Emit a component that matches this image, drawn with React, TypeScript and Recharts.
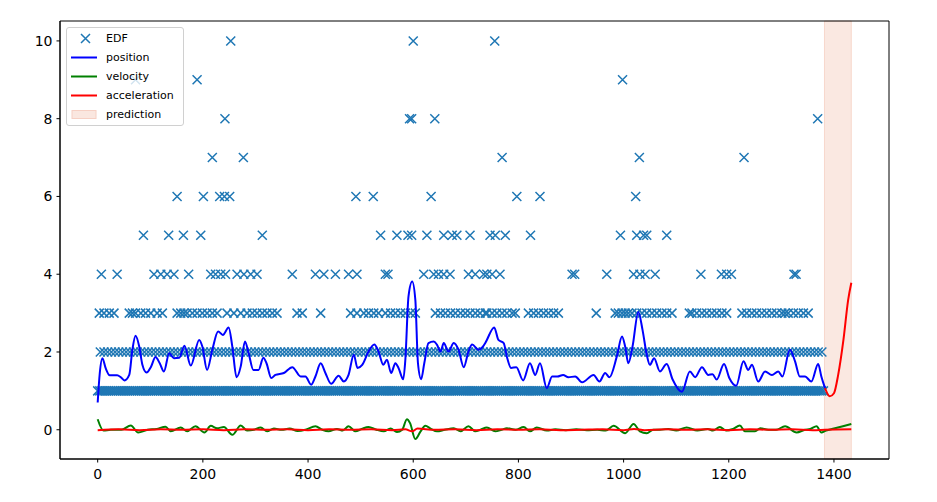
import React from "react"
import { ComposedChart, Scatter, Line, XAxis, YAxis, ReferenceArea } from "recharts"

// EDF observations, x positions grouped by value
const level1 = [
  0, 4, 8, 12, 16, 20, 24, 28, 32, 36, 40, 44, 48, 52, 56, 60, 64, 68, 72, 76, 80, 84, 88, 92, 96,
  100, 104, 108, 112, 116, 120, 124, 128, 132, 136, 140, 144, 148, 152, 156, 160, 164, 168, 172, 176, 180, 184, 188, 192, 196,
  200, 204, 208, 212, 216, 220, 224, 228, 232, 236, 240, 244, 248, 252, 256, 260, 264, 268, 272, 276, 280, 284, 288, 292, 296,
  300, 304, 308, 312, 316, 320, 324, 328, 332, 336, 340, 344, 348, 352, 356, 360, 364, 368, 372, 376, 380, 384, 388, 392, 396,
  400, 404, 408, 412, 416, 420, 424, 428, 432, 436, 440, 444, 448, 452, 456, 460, 464, 468, 472, 476, 480, 484, 488, 492, 496,
  500, 504, 508, 512, 516, 520, 524, 528, 532, 536, 540, 544, 548, 552, 556, 560, 564, 568, 572, 576, 580, 584, 588, 592, 596,
  600, 604, 608, 612, 616, 620, 624, 628, 632, 636, 640, 644, 648, 652, 656, 660, 664, 668, 672, 676, 680, 684, 688, 692, 696,
  700, 704, 708, 712, 716, 720, 724, 728, 732, 736, 740, 744, 748, 752, 756, 760, 764, 768, 772, 776, 780, 784, 788, 792, 796,
  800, 804, 808, 812, 816, 820, 824, 828, 832, 836, 840, 844, 848, 852, 856, 860, 864, 868, 872, 876, 880, 884, 888, 892, 896,
  900, 904, 908, 912, 916, 920, 924, 928, 932, 936, 940, 944, 948, 952, 956, 960, 964, 968, 972, 976, 980, 984, 988, 992, 996,
  1000, 1004, 1008, 1012, 1016, 1020, 1024, 1028, 1032, 1036, 1040, 1044, 1048, 1052, 1056, 1060, 1064, 1068, 1072, 1076, 1080, 1084, 1088, 1092, 1096,
  1100, 1104, 1108, 1112, 1116, 1120, 1124, 1128, 1132, 1136, 1140, 1144, 1148, 1152, 1156, 1160, 1164, 1168, 1172, 1176, 1180, 1184, 1188, 1192, 1196,
  1200, 1204, 1208, 1212, 1216, 1220, 1224, 1228, 1232, 1236, 1240, 1244, 1248, 1252, 1256, 1260, 1264, 1268, 1272, 1276, 1280, 1284, 1288, 1292, 1296,
  1300, 1304, 1308, 1312, 1316, 1320, 1324, 1328, 1332, 1336, 1340, 1344, 1348, 1352, 1356, 1360, 1364, 1368, 1372, 1376, 1380,
]
const level2 = [
  5, 12, 19, 26, 33, 40, 47, 54, 61, 68, 75, 82, 89, 96, 103, 110, 117, 124, 131, 138, 145, 152, 159, 166, 173, 180, 187, 194,
  201, 208, 215, 222, 229, 236, 243, 250, 257, 264, 271, 278, 285, 292, 299, 306, 313, 320, 327, 334, 341, 348, 355, 362, 369, 376, 383, 390, 397,
  404, 411, 418, 425, 432, 439, 446, 453, 460, 467, 474, 481, 488, 495, 502, 509, 516, 523, 530, 537, 544, 551, 558, 565, 572, 579, 586, 593,
  600, 607, 614, 621, 628, 635, 642, 649, 656, 663, 670, 677, 684, 691, 698, 705, 712, 719, 726, 733, 740, 747, 754, 761, 768, 775, 782, 789, 796,
  803, 810, 817, 824, 831, 838, 845, 852, 859, 866, 873, 880, 887, 894, 901, 908, 915, 922, 929, 936, 943, 950, 957, 964, 971, 978, 985, 992, 999,
  1006, 1013, 1020, 1027, 1034, 1041, 1048, 1055, 1062, 1069, 1076, 1083, 1090, 1097, 1104, 1111, 1118, 1125, 1132, 1139, 1146, 1153, 1160, 1167,
  1174, 1181, 1188, 1195, 1202, 1209, 1216, 1223, 1230, 1237, 1244, 1251, 1258, 1265, 1272, 1279, 1286, 1293, 1300, 1307, 1314, 1321, 1328, 1335,
  1342, 1349, 1356, 1363, 1370, 1377,
]
const level3 = [
  3, 12, 22, 31, 60, 66, 72, 82, 91, 101, 113, 123, 151, 158, 164, 170, 180, 189, 199, 208, 218, 227, 246, 259, 272, 284, 294, 303, 313, 322, 332,
  341, 379, 389, 424, 481, 493, 506, 515, 525, 534, 547, 557, 566, 576, 585, 595, 604,
  642, 652, 661, 671, 680, 690, 699, 708, 718, 727, 737, 740, 750, 759, 769, 778, 788, 794,
  819, 829, 838, 848, 857, 867, 876, 948, 984, 990, 997, 1003, 1009, 1016, 1025, 1035, 1044, 1054, 1063, 1073, 1082, 1092, 1125,
  1130, 1139, 1149, 1158, 1168, 1177, 1187, 1196, 1225, 1234, 1244, 1253, 1263, 1272, 1282, 1291, 1301, 1307, 1313, 1323, 1332, 1342, 1351,
]
const level4 = [
  7, 37, 107, 120, 132, 145, 173, 215, 224, 234, 243, 265, 278, 291, 303, 370, 414, 430, 452, 477, 493, 547, 552,
  620, 639, 648, 658, 670, 705, 718, 734, 740, 750, 765, 902, 907, 968, 1019, 1031, 1041, 1060, 1147, 1186, 1196, 1205, 1324, 1328,
]
const level5 = [87, 135, 163, 196, 313, 538, 569, 590, 597, 626, 658, 674, 683, 708, 746, 756, 775, 823, 994, 1025, 1038, 1044, 1082]
const level6 = [151, 201, 232, 241, 251, 491, 524, 634, 797, 841, 1023]
const level7 = [218, 277, 769, 1030, 1229]
const level8 = [242, 593, 597, 641, 1369]
const level9 = [72, 189, 998]
const level10 = [253, 600, 755]

const positionX = [
  0, 4, 9, 15, 23, 37, 44, 51, 60, 66, 72, 79, 85, 93, 101, 110, 118, 126, 136, 145, 155, 165, 177, 193, 199, 208, 218, 229, 238, 249,
  256, 264, 272, 280, 287, 296, 306, 315, 321, 330, 338, 354, 370, 386, 395, 406, 414, 424, 433, 444, 458, 468, 477, 487, 494, 503,
  515, 526, 534, 543, 550, 558, 566, 572, 581, 585, 591, 598, 604, 609, 615, 621, 629, 639, 645, 652, 658, 667, 677, 686, 696, 705,
  712, 724, 737, 740, 754, 762, 772, 778, 786, 796, 809, 822, 832, 841, 854, 864, 874, 885, 895, 908, 921, 943, 954, 965, 973, 987,
  997, 1003, 1009, 1017, 1028, 1036, 1044, 1050, 1058, 1069, 1082, 1093, 1111, 1126, 1136, 1149, 1161, 1169, 1177, 1191, 1201, 1214,
  1228, 1237, 1244, 1256, 1269, 1282, 1294, 1302, 1316, 1326, 1335, 1345, 1357, 1370, 1376, 1383,
]
const positionY = [
  0.7, 1.46, 1.84, 1.59, 1.4, 1.4, 1.35, 1.27, 1.41, 2.06, 2.42, 2.14, 1.67, 1.47, 1.61, 1.87, 1.71, 1.5, 1.97, 1.84, 1.85, 2.16, 1.65, 2.31, 2.14, 1.54, 2.06, 2.53, 2.44, 2.63,
  2.14, 1.35, 1.63, 2.27, 1.97, 1.54, 1.54, 1.85, 1.71, 1.33, 1.41, 1.46, 1.61, 1.37, 1.37, 1.16, 1.37, 1.71, 1.46, 1.18, 1.39, 1.24, 1.41, 1.93, 1.59, 1.67,
  2.01, 2.19, 2.01, 1.67, 1.8, 1.46, 1.71, 1.59, 1.3, 1.8, 3.43, 3.81, 3.34, 1.71, 1.3, 1.71, 2.23, 2.27, 2.19, 2.01, 2.23, 2.01, 2.23, 2.06, 1.61, 2.01,
  2.19, 2.06, 2.23, 2.31, 2.63, 2.31, 2.23, 1.88, 1.59, 1.61, 1.27, 1.71, 1.41, 1.71, 1.07, 1.37, 1.37, 1.41, 1.35, 1.37, 1.22, 1.41, 1.24, 1.46, 1.35, 1.88,
  2.4, 2.14, 1.71, 2.14, 3.03, 2.57, 1.93, 1.67, 1.84, 1.5, 1.69, 1.3, 0.98, 1.5, 1.35, 1.61, 1.41, 1.43, 1.29, 1.69, 1.33, 1.13,
  1.76, 1.54, 1.67, 1.24, 1.5, 1.41, 1.5, 1.37, 2.06, 1.76, 1.37, 1.37, 1.24, 1.69, 1.37, 1.07,
]

const predictionX = [1383, 1392, 1400, 1408, 1418, 1427, 1433]
const predictionY = [1.07, 0.86, 0.94, 1.41, 2.31, 3.34, 3.78]

const velocityX = [
  0, 11, 25, 45, 63, 77, 95, 112, 129, 139, 158, 170, 186, 203, 215, 227, 240, 256, 272, 284, 297, 310, 322, 335, 350, 365, 380, 395,
  414, 427, 439, 455, 466, 477, 490, 502, 515, 530, 544, 557, 569, 579, 588, 594, 604, 614, 623, 633, 645, 660, 677, 690, 705, 718, 728,
  740, 756, 768, 778, 795, 810, 822, 835, 854, 870, 890, 910, 930, 950, 966, 981, 1003, 1019, 1031, 1044, 1056, 1069, 1085, 1100, 1120,
  1140, 1160, 1170, 1183, 1195, 1208, 1221, 1231, 1250, 1260, 1275, 1290, 1307, 1329, 1345, 1355, 1367, 1376, 1385, 1400, 1417, 1433,
]
const velocityY = [
  0.27, -0.02, 0, 0, 0.11, -0.07, 0, 0.02, 0.08, -0.04, 0.06, -0.04, 0.09, -0.07, 0.1, 0.04, 0.07, -0.13, 0.11, -0.02, 0, 0.06, -0.04, 0.03, 0, 0.03, -0.03, 0,
  0.09, 0, -0.04, 0.02, -0.02, 0.09, -0.04, 0.02, 0.07, 0, -0.04, 0.03, -0.06, 0, 0.27, 0.17, -0.24, -0.04, 0.1, 0.03, -0.04, 0, 0.04, -0.04, 0.09, -0.04, 0,
  0.06, -0.04, 0, 0.04, 0, 0.07, -0.04, 0.06, -0.02, 0.01, -0.01, 0.01, -0.01, 0, -0.02, 0.1, -0.09, 0.15, -0.04, -0.09, 0, 0, 0.02, -0.02, 0.06,
  -0.02, 0.02, -0.02, 0.07, -0.02, 0.02, 0.11, -0.04, -0.04, 0.04, 0, 0, 0.09, -0.07, 0, 0.02, 0.09, -0.07, -0.02, 0.03, 0.09, 0.15,
]

const accelX = [
  0, 40, 80, 120, 160, 200, 240, 280, 320, 360, 400, 440, 480, 520, 560, 585, 598, 608, 640, 680, 720, 760, 800, 840, 880, 920, 960,
  1000, 1020, 1040, 1080, 1120, 1160, 1200, 1240, 1280, 1320, 1360, 1383, 1433,
]
const accelY = [
  -0.01, 0.01, -0.01, 0.01, 0, 0.01, -0.01, 0.01, 0, 0.01, -0.01, 0.01, 0, 0.01, -0.01, 0.01, -0.04, 0.03, 0, 0.01, -0.01, 0.01, 0, 0.01, -0.01, 0, 0.01,
  -0.01, 0.02, -0.01, 0.01, 0, 0.01, -0.01, 0.01, 0, 0.01, -0.01, 0, 0.01,
]

const xTicks = [0, 200, 400, 600, 800, 1000, 1200, 1400]
const yTicks = [0, 2, 4, 6, 8, 10]

const edfLevels: [number, number[]][] = [
  [1, level1], [2, level2], [3, level3], [4, level4], [5, level5],
  [6, level6], [7, level7], [8, level8], [9, level9], [10, level10],
]
const edfData = edfLevels.flatMap(([v, xs]) => xs.map((x) => ({ x, y: v })))
const zip = (xs: number[], ys: number[]) => xs.map((x, i) => ({ x, y: ys[i] }))
const positionData = zip(positionX, positionY)
const predictionData = zip(predictionX, predictionY)
const velocityData = zip(velocityX, velocityY)
const accelData = zip(accelX, accelY)

const font = "'DejaVu Sans', sans-serif"

const XMark = (props: any) => {
  const { cx, cy } = props
  if (cx == null || cy == null) return <g />
  const r = 4.5
  return (
    <path
      d={`M${cx - r},${cy - r}L${cx + r},${cy + r}M${cx - r},${cy + r}L${cx + r},${cy - r}`}
      stroke="#1f77b4"
      strokeWidth={1.5}
      fill="none"
    />
  )
}

const legendItems = [
  { label: "EDF", kind: "x", color: "#1f77b4" },
  { label: "position", kind: "line", color: "#0000ff" },
  { label: "velocity", kind: "line", color: "#008000" },
  { label: "acceleration", kind: "line", color: "#ff0000" },
  { label: "prediction", kind: "rect", color: "#fae7e0" },
]

function LegendBox() {
  return (
    <div
      style={{
        position: "absolute",
        left: 66,
        top: 27,
        width: 116,
        height: 97,
        border: "1px solid #d0d0d0",
        borderRadius: 3,
        background: "rgba(255,255,255,0.8)",
        fontFamily: font,
        fontSize: 11,
        color: "#000",
      }}
    >
      {legendItems.map((it, i) => (
        <div key={it.label} style={{ position: "absolute", left: 0, top: 1 + i * 19, height: 19, display: "flex", alignItems: "center" }}>
          <svg width={36} height={19} style={{ display: "block" }}>
            {it.kind === "x" && (
              <path d="M14,5L23,14M14,14L23,5" stroke={it.color} strokeWidth={1.5} fill="none" />
            )}
            {it.kind === "line" && <line x1={4} x2={30} y1={9.5} y2={9.5} stroke={it.color} strokeWidth={2} />}
            {it.kind === "rect" && <rect x={5} y={5.5} width={24} height={8} fill={it.color} stroke="#f6d0c4" strokeWidth={1} />}
          </svg>
          <span style={{ marginLeft: 3, lineHeight: "19px" }}>{it.label}</span>
        </div>
      ))}
    </div>
  )
}

export default function App() {
  return (
    <div style={{ position: "relative", width: 937, height: 502, background: "#fff" }}>
      <style>{`body{margin:0}`}</style>
      <ComposedChart width={937} height={502} margin={{ top: 21, right: 48, bottom: 0, left: 0 }}>
        <XAxis
          type="number"
          dataKey="x"
          domain={[-71.65, 1504.65]}
          allowDataOverflow
          ticks={xTicks}
          interval={0}
          height={43}
          tickSize={3.5}
          tickMargin={6.5}
          stroke="#000"
          tick={{ fill: "#000", fontSize: 14, fontFamily: font }}
        />
        <YAxis
          type="number"
          dataKey="y"
          domain={[-0.752, 10.512]}
          allowDataOverflow
          ticks={yTicks}
          interval={0}
          width={60}
          tickSize={3.5}
          tickMargin={4}
          stroke="#000"
          tick={{ fill: "#000", fontSize: 14, fontFamily: font }}
        />
        <ReferenceArea x1={1382} x2={1433} fill="#f5d5c9" fillOpacity={0.55} stroke="#f3c6b6" strokeOpacity={0.6} zIndex={50} />
        <Scatter name="EDF" data={edfData} shape={XMark} isAnimationActive={false} zIndex={300} />
        <Line name="position" data={positionData} dataKey="y" type="monotone" stroke="#0000ff" strokeWidth={2} dot={false} activeDot={false} isAnimationActive={false} zIndex={700} />
        <Line name="velocity" data={velocityData} dataKey="y" type="monotone" stroke="#008000" strokeWidth={2} dot={false} activeDot={false} isAnimationActive={false} zIndex={700} />
        <Line name="acceleration" data={accelData} dataKey="y" type="monotone" stroke="#ff0000" strokeWidth={2} dot={false} activeDot={false} isAnimationActive={false} zIndex={700} />
        <Line name="predicted position" data={predictionData} dataKey="y" type="monotone" stroke="#ff0000" strokeWidth={2} dot={false} activeDot={false} isAnimationActive={false} zIndex={700} />
        <ReferenceArea x1={-71.65} x2={1504.65} y1={-0.752} y2={10.512} fill="none" stroke="#000" strokeWidth={1} zIndex={900} />
      </ComposedChart>
      <LegendBox />
    </div>
  )
}
